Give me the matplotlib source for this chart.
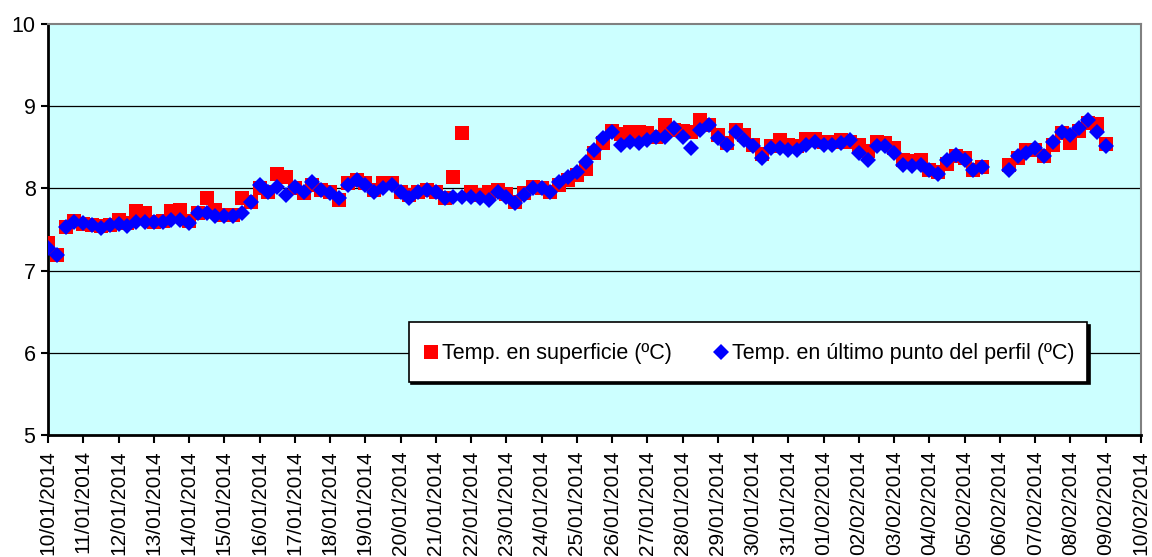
import numpy as np
import pandas as pd
import matplotlib
matplotlib.use('Agg')
import matplotlib.pyplot as plt
import matplotlib.dates as mdates
from matplotlib.legend_handler import HandlerLine2D

plt.rcParams['font.family'] = ['Liberation Sans', 'DejaVu Sans']

# 6-hourly readings starting 10/01/2014 00:00 (nan = no data)
times = pd.date_range('2014-01-10', periods=121, freq='6h')

temp_surface = [
    7.34, 7.19, 7.53, 7.60, 7.57, 7.55, 7.54, 7.56, 7.62, 7.58,
    7.72, 7.70, 7.59, 7.60, 7.72, 7.74, 7.60, 7.70, 7.88, 7.74,
    7.68, 7.68, 7.88, 7.84, 8.00, 7.96, 8.18, 8.14, 8.00, 7.94,
    8.04, 7.98, 7.96, 7.86, 8.06, 8.10, 8.06, 7.98, 8.06, 8.06,
    7.96, 7.92, 7.96, 7.98, 7.96, 7.88, 8.14, 8.67, 7.95, 7.92,
    7.95, 7.98, 7.93, 7.84, 7.94, 8.02, 8.00, 7.95, 8.04, 8.10,
    8.16, 8.24, 8.43, 8.55, 8.70, 8.66, 8.69, 8.69, 8.67, 8.63,
    8.77, 8.71, 8.70, 8.68, 8.83, 8.77, 8.65, 8.55, 8.71, 8.65,
    8.53, 8.42, 8.51, 8.59, 8.53, 8.51, 8.60, 8.60, 8.57, 8.57,
    8.59, 8.57, 8.53, 8.45, 8.57, 8.55, 8.49, 8.35, 8.33, 8.35,
    8.22, 8.20, 8.30, 8.39, 8.37, 8.22, 8.26, np.nan, np.nan, 8.28,
    8.37, 8.47, 8.47, 8.39, 8.53, 8.67, 8.55, 8.70, 8.80, 8.78,
    8.54,
]

temp_profile_end = [
    7.27, 7.19, 7.53, 7.59, 7.58, 7.55, 7.52, 7.55, 7.57, 7.54,
    7.59, 7.59, 7.59, 7.59, 7.62, 7.62, 7.58, 7.70, 7.70, 7.66,
    7.67, 7.66, 7.70, 7.84, 8.04, 7.96, 8.02, 7.92, 8.02, 7.96,
    8.08, 7.98, 7.94, 7.88, 8.04, 8.10, 8.04, 7.96, 8.00, 8.04,
    7.96, 7.88, 7.96, 7.98, 7.96, 7.88, 7.90, 7.90, 7.90, 7.88,
    7.86, 7.96, 7.90, 7.82, 7.92, 8.00, 8.00, 7.96, 8.08, 8.14,
    8.20, 8.32, 8.47, 8.61, 8.69, 8.53, 8.57, 8.55, 8.59, 8.63,
    8.63, 8.73, 8.63, 8.49, 8.71, 8.77, 8.61, 8.53, 8.69, 8.59,
    8.51, 8.37, 8.49, 8.49, 8.47, 8.47, 8.53, 8.57, 8.53, 8.53,
    8.55, 8.59, 8.43, 8.35, 8.51, 8.51, 8.43, 8.28, 8.27, 8.28,
    8.22, 8.18, 8.35, 8.41, 8.35, 8.22, 8.26, np.nan, np.nan, 8.22,
    8.39, 8.43, 8.49, 8.39, 8.57, 8.69, 8.65, 8.73, 8.83, 8.69,
    8.51,
]

labels = ['Temp. en superficie (ºC)', 'Temp. en último punto del perfil (ºC)']


# legend handler that puts the marker level with the text middle
class LoweredMarker(HandlerLine2D):
    def create_artists(self, legend, orig_handle, xdescent, ydescent,
                       width, height, fontsize, trans):
        artists = super().create_artists(legend, orig_handle, xdescent, ydescent,
                                         width, height, fontsize, trans)
        for a in artists:
            a.set_ydata(np.asarray(a.get_ydata()) - 0.24 * fontsize)
        return artists


fig = plt.figure(figsize=(11.52, 5.57), dpi=100)
ax = fig.add_axes([0.0417, 0.219, 0.9487, 0.738])
ax.set_facecolor('#CCFFFF')

l1, = ax.plot(times, temp_surface, 's', color='#FF0000', ms=10.5, mew=0, label=labels[0], zorder=3)
l2, = ax.plot(times, temp_profile_end, 'D', color='#0000FF', ms=8.3, mew=0, label=labels[1], zorder=4)

ax.set_ylim(5, 10)
ax.set_yticks([5, 6, 7, 8, 9, 10])
ax.set_xlim(pd.Timestamp('2014-01-10'), pd.Timestamp('2014-02-10'))
ax.xaxis.set_major_locator(mdates.DayLocator())
ax.xaxis.set_major_formatter(mdates.DateFormatter('%d/%m/%Y'))

for y in [6, 7, 8, 9]:
    ax.axhline(y, color='black', lw=0.9, zorder=1)

ax.spines['left'].set_linewidth(2)
ax.spines['bottom'].set_linewidth(2)
ax.spines['top'].set_color('#808080')
ax.spines['right'].set_color('#808080')
ax.spines['top'].set_linewidth(1.5)
ax.spines['right'].set_linewidth(1.5)

ax.tick_params(axis='y', direction='out', length=5, width=1.5, labelsize=15.5, pad=4)
ax.tick_params(axis='x', direction='out', length=6, width=1.5, labelsize=15, pad=5)
for lab in ax.get_xticklabels():
    lab.set_rotation(90)
    lab.set_ha('center')
    lab.set_va('top')

leg = ax.legend(handler_map={l1: LoweredMarker(), l2: LoweredMarker()},
                loc='center', bbox_to_anchor=(0.330, 0.114, 0.621, 0.176), mode='expand',
                ncol=2, fontsize=15.5, frameon=True, fancybox=False,
                shadow={'color': 'black', 'alpha': 1},
                handletextpad=0.05, handlelength=0.9, handleheight=2.0,
                borderpad=0.6, columnspacing=1.0, borderaxespad=0)
leg.get_frame().set_edgecolor('black')
leg.get_frame().set_linewidth(1.2)
leg.get_frame().set_facecolor('white')

fig.savefig('out.png', dpi=100)
